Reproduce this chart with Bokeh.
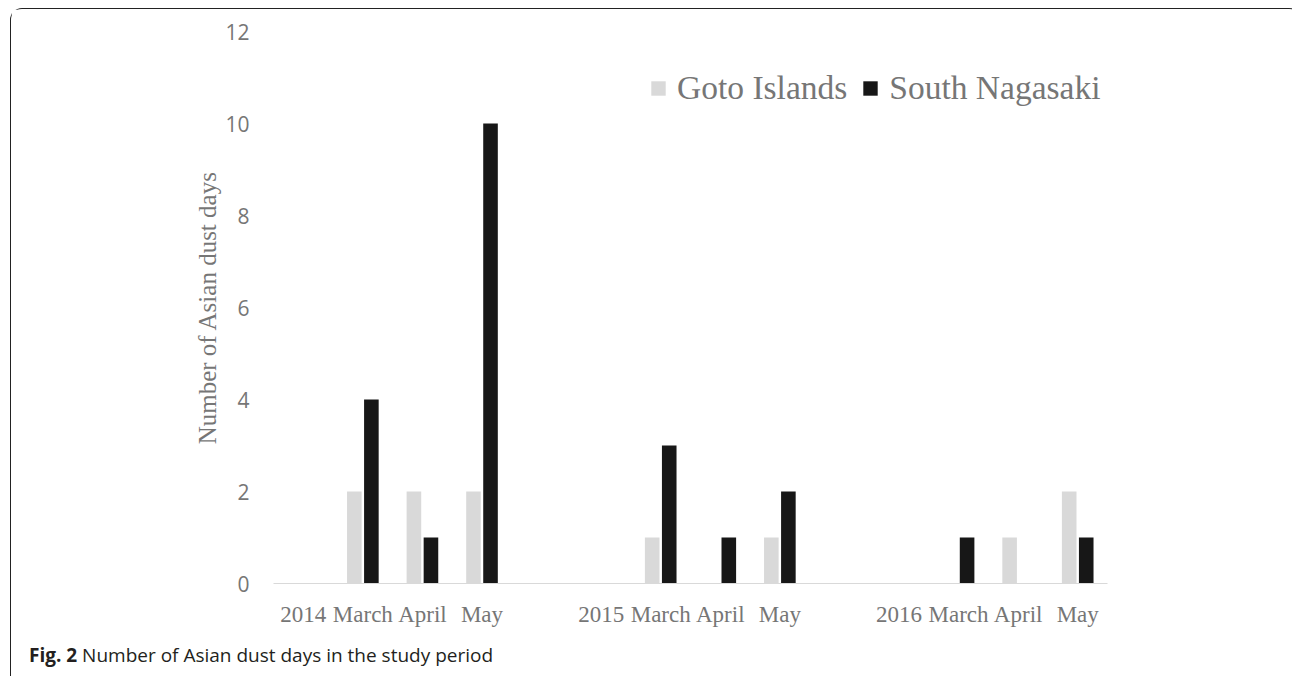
from bokeh.plotting import figure
from bokeh.layouts import column
from bokeh.models import (Range1d, FixedTicker, Legend, LegendItem, Div,
                          ColumnDataSource)
from bokeh.transform import dodge
from bokeh.embed import file_html
from bokeh.resources import INLINE

# ---- data ----
categories = ["2014", "March", "April", "May", "",
              "2015", "March", "April", "May", "",
              "2016", "March", "April", "May"]
goto_islands = [0, 2, 2, 2, 0, 0, 1, 0, 1, 0, 0, 0, 1, 2]
south_nagasaki = [0, 4, 1, 10, 0, 0, 3, 1, 2, 0, 0, 1, 0, 1]
y_ticks = [0, 2, 4, 6, 8, 10, 12]
caption_bold = "Fig. 2"
caption_text = "Number of Asian dust days in the study period"

x_pos = [i + 0.5 for i in range(len(categories))]
src = ColumnDataSource(dict(x=x_pos, goto=goto_islands, south=south_nagasaki))

GRAY_TEXT = "#767676"
SERIF = "Liberation Serif"
W = 1280

p = figure(width=W, height=620, output_backend="svg", toolbar_location=None,
           x_range=Range1d(0, len(categories)), y_range=Range1d(0, 12),
           min_border_left=262, min_border_right=184,
           min_border_top=22, min_border_bottom=41)
p.outline_line_color = None
p.grid.visible = False

r_goto = p.vbar(x=dodge("x", -0.143), top="goto", width=0.245, source=src,
                fill_color="#d9d9d9", line_color=None)
r_south = p.vbar(x=dodge("x", 0.143), top="south", width=0.245, source=src,
                 fill_color="#171717", line_color=None)

# x axis
xa = p.xaxis[0]
xa.ticker = FixedTicker(ticks=x_pos)
xa.major_label_overrides = {x: c for x, c in zip(x_pos, categories)}
xa.major_tick_line_color = None
xa.minor_tick_line_color = None
xa.axis_line_color = "#d9d9d9"
xa.axis_line_width = 1
xa.major_label_text_font = SERIF
xa.major_label_text_font_size = "23px"
xa.major_label_text_color = GRAY_TEXT
xa.major_label_standoff = 12

# y axis
ya = p.yaxis[0]
ya.ticker = FixedTicker(ticks=y_ticks)
ya.axis_line_color = None
ya.major_tick_line_color = None
ya.minor_tick_line_color = None
ya.major_label_text_font = "Open Sans"
ya.major_label_text_font_size = "21px"
ya.major_label_text_color = GRAY_TEXT
ya.major_label_standoff = 18
ya.axis_label = "Number of Asian dust days"
ya.axis_label_text_font = SERIF
ya.axis_label_text_font_style = "normal"
ya.axis_label_text_font_size = "25px"
ya.axis_label_text_color = GRAY_TEXT
ya.axis_label_standoff = 1

legend = Legend(items=[LegendItem(label="Goto Islands", renderers=[r_goto]),
                       LegendItem(label="South Nagasaki", renderers=[r_south])],
                orientation="horizontal", location=(376, 476),
                glyph_width=18, glyph_height=18, label_standoff=10, spacing=14,
                padding=0, margin=0, border_line_color=None,
                background_fill_alpha=0,
                label_text_font=SERIF, label_text_font_size="33.5px",
                label_text_color=GRAY_TEXT)
p.add_layout(legend, "center")

# caption
cap = Div(text=f"<b>{caption_bold}</b> {caption_text}", width=W, height=46,
          styles={"font-family": "'Open Sans', sans-serif",
                  "font-size": "19px", "color": "#231f20",
                  "line-height": "24px", "padding-top": "9px",
                  "padding-left": "13px", "box-sizing": "border-box",
                  "white-space": "nowrap"})

layout = column(p, cap, spacing=0, margin=(8, 0, 0, 10))
layout.styles = {"border-top": "1.5px solid #222222",
                 "border-left": "1.5px solid #222222",
                 "border-top-left-radius": "12px",
                 "border-top-right-radius": "12px",
                 "border-bottom-left-radius": "10px"}

open("out.html", "w").write(file_html(layout, INLINE))
